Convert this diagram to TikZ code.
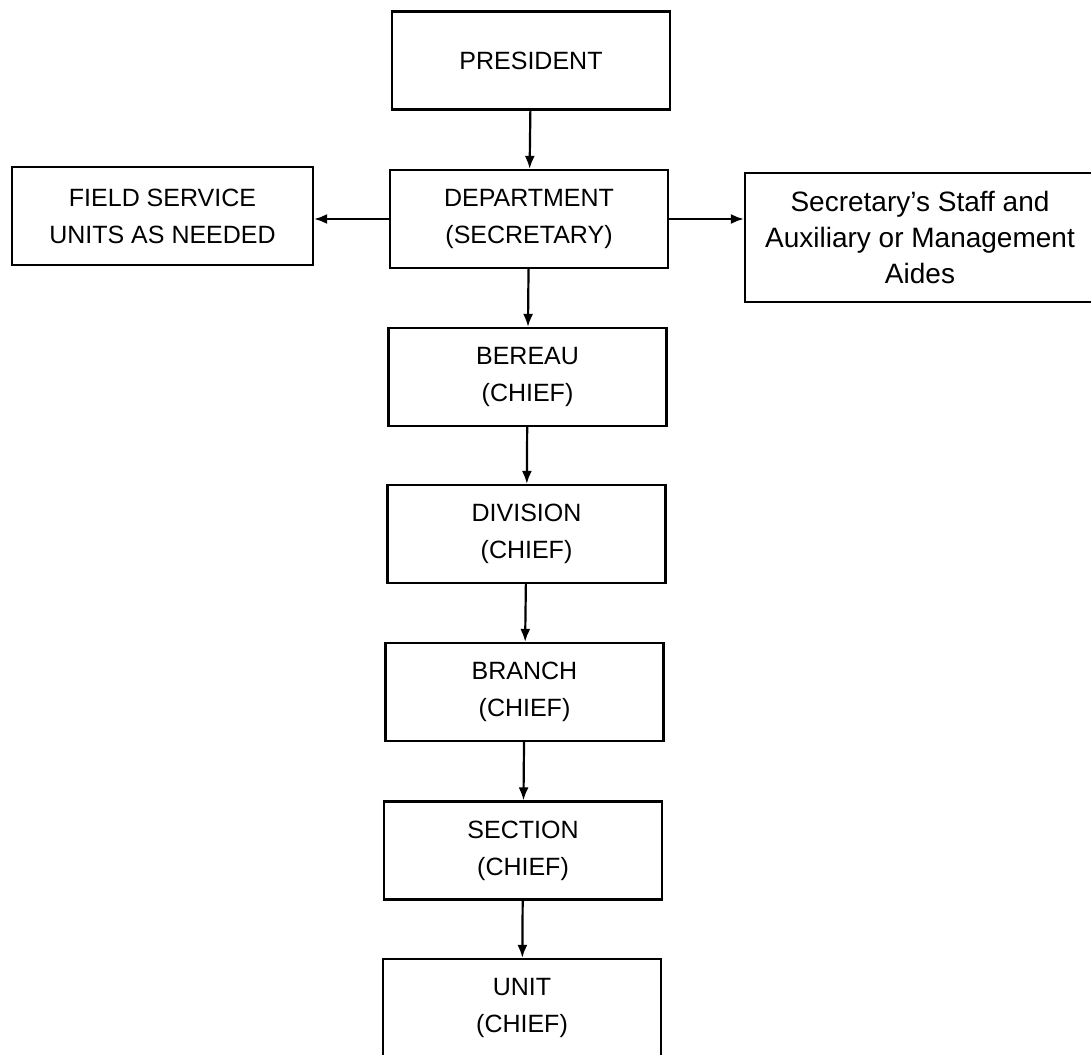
\documentclass[tikz,border=0pt]{standalone}
\usepackage{fontspec}
\setmainfont{Liberation Sans}
\usetikzlibrary{arrows.meta,positioning}

\begin{document}
\begin{tikzpicture}[
    x=0.5pt, y=-0.5pt,
    office/.style={rectangle, draw, line width=1.1pt, minimum width=139pt, minimum height=49pt, inner sep=0pt, align=center, font=\fontsize{12.5}{18.5}\selectfont},
    aides/.style={office, minimum width=175pt, minimum height=64.5pt, font=\fontsize{14}{18}\selectfont},
    arrow/.style={-{Latex[length=6.5pt,width=5pt]}, line width=1.1pt}
]
    \useasboundingbox (0,0) rectangle (1091,1054);

    % Line of command
    \node[office] (pres) at (531,60.5) {PRESIDENT};
    \node[office] (dept) at (529,219) {DEPARTMENT\\(SECRETARY)};
    \node[office] (bureau) at (527.5,377) {BEREAU\\(CHIEF)};
    \node[office] (div) at (526.5,534) {DIVISION\\(CHIEF)};
    \node[office] (branch) at (524.5,692) {BRANCH\\(CHIEF)};
    \node[office] (sect) at (523,850.5) {SECTION\\(CHIEF)};
    \node[office] (unit) at (522,1008) {UNIT\\(CHIEF)};

    % Side boxes
    \node[office, minimum width=150.5pt] (field) at (162.5,216) {FIELD SERVICE\\UNITS AS NEEDED};
    \node[aides] (staff) at (920,237.5) {Secretary's Staff and\\Auxiliary or Management\\Aides};

    % Arrows
    \draw[arrow] (pres) -- (dept);
    \draw[arrow] (dept) -- (bureau);
    \draw[arrow] (bureau) -- (div);
    \draw[arrow] (div) -- (branch);
    \draw[arrow] (branch) -- (sect);
    \draw[arrow] (sect) -- (unit);
    \draw[arrow] (dept.west) -- (dept.west -| field.east);
    \draw[arrow] (dept.east) -- (dept.east -| staff.west);
\end{tikzpicture}
\end{document}
